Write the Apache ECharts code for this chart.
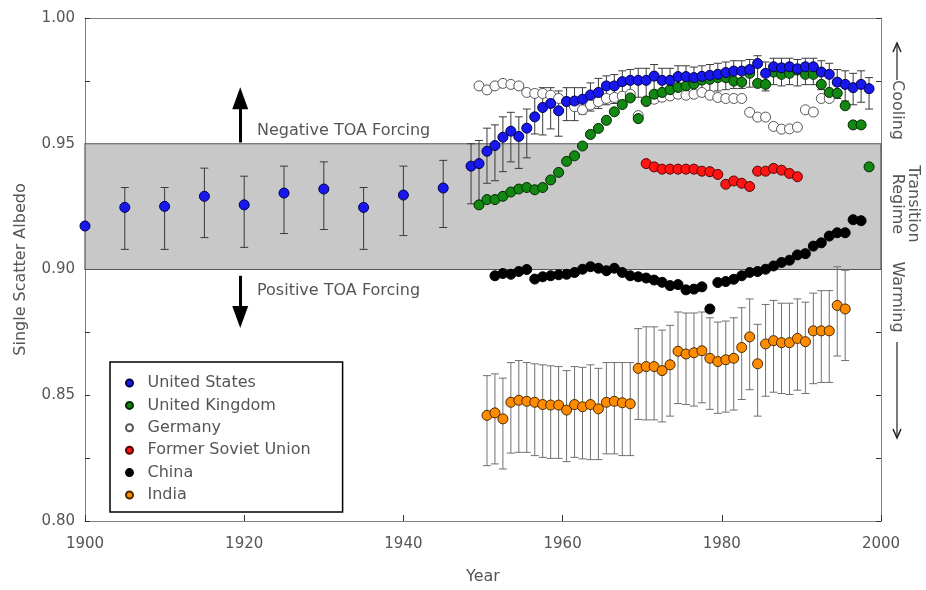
<!DOCTYPE html>
<html>
<head>
<meta charset="utf-8">
<script src="https://cdn.jsdelivr.net/npm/echarts@6/dist/echarts.min.js"></script>
<style>
  html, body { margin: 0; padding: 0; background: #fff; }
  #chart { width: 926px; height: 590px; }
</style>
</head>
<body>
<div id="chart"></div>
<script>
// Single scatter albedo of regional aerosol, 1900–2000

const xTicks = [1900, 1920, 1940, 1960, 1980, 2000];
const yTicks = [0.80, 0.85, 0.90, 0.95, 1.00];
const transitionLow = 0.90;
const transitionHigh = 0.95;

// United States, 5-year values 1900–1945 with error range
const usEarlyYears = [1900, 1905, 1910, 1915, 1920, 1925, 1930, 1935, 1940, 1945];
const usEarly   = [0.9173, 0.9247, 0.9251, 0.9291, 0.9257, 0.9304, 0.9320, 0.9247, 0.9296, 0.9324];
const usEarlyHi = [null,   0.9326, 0.9326, 0.9403, 0.9371, 0.9411, 0.9428, 0.9326, 0.9411, 0.9434];
const usEarlyLo = [null,   0.9080, 0.9080, 0.9127, 0.9088, 0.9143, 0.9159, 0.9080, 0.9135, 0.9167];

// Annual means: first year, then one value per year (plotted at mid-year)
const usStart = 1948;
const usAnnual = [
  0.9411, 0.9421, 0.9470, 0.9493, 0.9526, 0.9550, 0.9529, 0.9562, 0.9607, 0.9644,
  0.9660, 0.9631, 0.9668, 0.9670, 0.9677, 0.9694, 0.9704, 0.9730, 0.9730, 0.9747,
  0.9752, 0.9752, 0.9752, 0.9769, 0.9752, 0.9752, 0.9767, 0.9767, 0.9763, 0.9768,
  0.9772, 0.9776, 0.9783, 0.9789, 0.9789, 0.9795, 0.9819, 0.9780, 0.9806, 0.9802,
  0.9806, 0.9798, 0.9806, 0.9806, 0.9785, 0.9776, 0.9745, 0.9736, 0.9723, 0.9736,
  0.9719
];
const usAnnualHi = [
  0.9500, 0.9513, 0.9562, 0.9575, 0.9607, 0.9625, 0.9607, 0.9638, 0.9710, 0.9723,
  0.9723, 0.9710, 0.9723, 0.9723, 0.9723, 0.9742, 0.9760, 0.9770, 0.9775, 0.9790,
  0.9795, 0.9800, 0.9800, 0.9815, 0.9800, 0.9800, 0.9810, 0.9810, 0.9805, 0.9810,
  0.9815, 0.9820, 0.9825, 0.9830, 0.9830, 0.9835, 0.9850, 0.9825, 0.9840, 0.9840,
  0.9840, 0.9835, 0.9840, 0.9840, 0.9830, 0.9820, 0.9795, 0.9790, 0.9780, 0.9790,
  0.9763
];
const usAnnualLo = [
  0.9261, 0.9261, 0.9343, 0.9353, 0.9389, 0.9428, 0.9402, 0.9444, 0.9539, 0.9535,
  0.9559, 0.9530, 0.9592, 0.9592, 0.9618, 0.9630, 0.9640, 0.9655, 0.9660, 0.9675,
  0.9680, 0.9685, 0.9680, 0.9700, 0.9685, 0.9690, 0.9700, 0.9700, 0.9695, 0.9700,
  0.9705, 0.9710, 0.9715, 0.9720, 0.9720, 0.9725, 0.9750, 0.9710, 0.9735, 0.9730,
  0.9735, 0.9730, 0.9735, 0.9735, 0.9715, 0.9705, 0.9680, 0.9670, 0.9655, 0.9665,
  0.9638
];

const ukStart = 1949;
const ukAnnual = [
  0.9257, 0.9278, 0.9278, 0.9291, 0.9308, 0.9320, 0.9326, 0.9317, 0.9326, 0.9356,
  0.9386, 0.9430, 0.9452, 0.9491, 0.9537, 0.9561, 0.9593, 0.9627, 0.9656, 0.9682,
  0.9600, 0.9670, 0.9697, 0.9704, 0.9715, 0.9724, 0.9730, 0.9738, 0.9753, 0.9756,
  0.9763, 0.9763, 0.9749, 0.9745, 0.9780, 0.9740, 0.9736, 0.9785, 0.9776, 0.9780,
  0.9793, 0.9776, 0.9776, 0.9736, 0.9704, 0.9701, 0.9651, 0.9575, 0.9575, 0.9408
];

const deStart = 1949;
const deAnnual = [
  0.9730, 0.9714, 0.9730, 0.9740, 0.9736, 0.9730, 0.9704, 0.9700, 0.9700, 0.9693,
  0.9680, 0.9667, 0.9647, 0.9635, 0.9654, 0.9667, 0.9680, 0.9684, 0.9689, 0.9697,
  0.9612, 0.9667, 0.9677, 0.9685, 0.9690, 0.9697, 0.9693, 0.9697, 0.9704, 0.9693,
  0.9684, 0.9680, 0.9680, 0.9680, 0.9625, 0.9606, 0.9606, 0.9569, 0.9558, 0.9559,
  0.9566, 0.9635, 0.9626, 0.9680, 0.9680
];

const fsuStart = 1970;
const fsuAnnual = [
  0.9421, 0.9408, 0.9399, 0.9399, 0.9399, 0.9399, 0.9399, 0.9391, 0.9389, 0.9378,
  0.9339, 0.9352, 0.9343, 0.9330, 0.9391, 0.9391, 0.9402, 0.9395, 0.9382, 0.9369
];

const chinaStart = 1951;
const chinaAnnual = [
  0.8975, 0.8984, 0.8981, 0.8992, 0.9000, 0.8962, 0.8971, 0.8975, 0.8979, 0.8981,
  0.8988, 0.9001, 0.9011, 0.9005, 0.8995, 0.9005, 0.8988, 0.8975, 0.8971, 0.8966,
  0.8958, 0.8949, 0.8936, 0.8940, 0.8919, 0.8922, 0.8931, 0.8843, 0.8948, 0.8952,
  0.8961, 0.8975, 0.8988, 0.8992, 0.9001, 0.9014, 0.9028, 0.9037, 0.9058, 0.9063,
  0.9093, 0.9106, 0.9133, 0.9146, 0.9146, 0.9198, 0.9194
];

const indiaStart = 1950;
const indiaAnnual = [
  0.8420, 0.8430, 0.8406, 0.8472, 0.8480, 0.8476, 0.8472, 0.8463, 0.8461, 0.8461,
  0.8441, 0.8463, 0.8454, 0.8463, 0.8446, 0.8472, 0.8476, 0.8470, 0.8466, 0.8607,
  0.8614, 0.8614, 0.8598, 0.8621, 0.8675, 0.8664, 0.8669, 0.8677, 0.8647, 0.8634,
  0.8641, 0.8647, 0.8690, 0.8732, 0.8625, 0.8704, 0.8717, 0.8709, 0.8709, 0.8726,
  0.8713, 0.8756, 0.8756, 0.8756, 0.8857, 0.8843
];
const indiaHi = [
  0.8578, 0.8585, 0.8568, 0.8630, 0.8638, 0.8630, 0.8625, 0.8621, 0.8617, 0.8614,
  0.8598, 0.8614, 0.8611, 0.8621, 0.8607, 0.8630, 0.8630, 0.8630, 0.8630, 0.8765,
  0.8772, 0.8772, 0.8759, 0.8778, 0.8831, 0.8827, 0.8827, 0.8831, 0.8808, 0.8791,
  0.8795, 0.8808, 0.8848, 0.8883, 0.8782, 0.8861, 0.8877, 0.8866, 0.8866, 0.8883,
  0.8870, 0.8906, 0.8916, 0.8916, 0.9011, 0.8997
];
const indiaLo = [
  0.8220, 0.8227, 0.8207, 0.8270, 0.8273, 0.8273, 0.8260, 0.8253, 0.8249, 0.8249,
  0.8236, 0.8253, 0.8247, 0.8244, 0.8244, 0.8267, 0.8267, 0.8260, 0.8260, 0.8404,
  0.8402, 0.8402, 0.8394, 0.8417, 0.8467, 0.8463, 0.8457, 0.8470, 0.8444, 0.8428,
  0.8433, 0.8441, 0.8483, 0.8522, 0.8417, 0.8496, 0.8512, 0.8507, 0.8503, 0.8520,
  0.8507, 0.8546, 0.8551, 0.8551, 0.8656, 0.8638
];

// Annual means are centred in their year
const MID_YEAR = 0.5;
const FONT = 'DejaVu Sans';
const TEXT = '#555';

function annualPoints(start, values) {
  return values.map((v, i) => [start + i + MID_YEAR, v]);
}
function annualBars(start, lo, hi) {
  return lo.map((l, i) => [start + i + MID_YEAR, l, hi[i]]);
}

const usPoints = usEarlyYears.map((y, i) => [y, usEarly[i]])
  .concat(annualPoints(usStart, usAnnual));
const usBars = usEarlyYears.map((y, i) => [y, usEarlyLo[i], usEarlyHi[i]])
  .filter(d => d[1] !== null)
  .concat(annualBars(usStart, usAnnualLo, usAnnualHi));
const indiaBars = annualBars(indiaStart, indiaLo, indiaHi);

// Vertical error bar with short caps
function renderBar(params, api) {
  const x = api.value(0);
  const top = api.coord([x, api.value(2)]);
  const bot = api.coord([x, api.value(1)]);
  const half = 4;
  const style = { stroke: api.visual('color'), lineWidth: 1 };
  return {
    type: 'group',
    children: [
      { type: 'line', shape: { x1: top[0], y1: top[1], x2: bot[0], y2: bot[1] }, style },
      { type: 'line', shape: { x1: top[0] - half, y1: top[1], x2: top[0] + half, y2: top[1] }, style },
      { type: 'line', shape: { x1: bot[0] - half, y1: bot[1], x2: bot[0] + half, y2: bot[1] }, style }
    ]
  };
}

function scatter(name, data, fill, border, z) {
  return {
    name, type: 'scatter', data, z,
    symbol: 'circle', symbolSize: 10,
    itemStyle: { color: fill, borderColor: border, borderWidth: 1, opacity: 1 },
    emphasis: { disabled: true }, silent: true
  };
}

const chart = echarts.init(document.getElementById('chart'), null, { renderer: 'canvas' });

const axisLineStyle = { color: '#808080', width: 1 };
const tickStyle = { color: '#333', width: 1 };

chart.setOption({
  animation: false,
  backgroundColor: '#fff',
  grid: { left: 85, right: 45, top: 18, bottom: 65, containLabel: false },
  textStyle: { fontFamily: FONT },
  xAxis: [
    {
      type: 'value', min: xTicks[0], max: xTicks[xTicks.length - 1], interval: 20,
      position: 'bottom',
      axisLine: { lineStyle: axisLineStyle },
      axisTick: { inside: true, length: 6, lineStyle: tickStyle },
      axisLabel: { margin: 16, color: TEXT, fontSize: 15, fontFamily: FONT, formatter: v => String(v) },
      splitLine: { show: false },
      name: 'Year', nameLocation: 'middle', nameGap: 48,
      nameTextStyle: { color: TEXT, fontSize: 16, fontFamily: FONT }
    },
    {
      type: 'value', min: xTicks[0], max: xTicks[xTicks.length - 1], position: 'top',
      axisLine: { show: true, lineStyle: axisLineStyle },
      axisTick: { show: false }, axisLabel: { show: false }, splitLine: { show: false }
    }
  ],
  yAxis: [
    {
      type: 'value', min: yTicks[0], max: yTicks[yTicks.length - 1], interval: 0.05,
      position: 'left',
      axisLine: { show: true, lineStyle: axisLineStyle },
      axisTick: { show: true, inside: true, length: 5, lineStyle: tickStyle },
      minorTick: { show: true, splitNumber: 2, length: 5, lineStyle: tickStyle },
      axisLabel: { margin: 10, color: TEXT, fontSize: 15, fontFamily: FONT, formatter: v => v.toFixed(2) },
      splitLine: { show: false },
      name: 'Single Scatter Albedo', nameLocation: 'middle', nameGap: 56,
      nameTextStyle: { color: TEXT, fontSize: 16, fontFamily: FONT }
    },
    {
      type: 'value', min: yTicks[0], max: yTicks[yTicks.length - 1], interval: 0.05,
      position: 'right',
      axisLine: { show: true, lineStyle: axisLineStyle },
      axisTick: { show: true, inside: true, length: 5, lineStyle: tickStyle },
      minorTick: { show: true, splitNumber: 2, length: 5, lineStyle: tickStyle },
      axisLabel: { show: false }, splitLine: { show: false }
    }
  ],
  legend: {
    orient: 'vertical', left: 110, top: 362,
    padding: [13, 32, 9, 15],
    itemWidth: 26, itemHeight: 7, itemGap: 6.4,
    selectedMode: false,
    borderColor: '#000', borderWidth: 1.5, backgroundColor: '#fff',
    textStyle: { fontFamily: FONT, fontSize: 16, color: TEXT },
    data: ['United States', 'United Kingdom', 'Germany', 'Former Soviet Union', 'China', 'India']
  },
  series: [
    {
      // transition regime band and TOA forcing arrows
      name: 'regime', type: 'scatter', data: [], z: 1, silent: true,
      markArea: {
        silent: true,
        itemStyle: { color: '#c8c8c8', borderColor: '#555', borderWidth: 1.2 },
        data: [[{ xAxis: xTicks[0], yAxis: transitionLow }, { xAxis: xTicks[xTicks.length - 1], yAxis: transitionHigh }]]
      },
      markLine: {
        silent: true, symbol: ['none', 'triangle'], symbolSize: [16, 22],
        label: { show: false },
        lineStyle: { color: '#000', width: 3, type: 'solid' },
        data: [
          [{ coord: [1919.5, 0.9505] }, { coord: [1919.5, 0.9681] }],
          [{ coord: [1919.5, 0.8975] }, { coord: [1919.5, 0.8811] }]
        ]
      }
    },
    {
      name: 'US error', type: 'custom', renderItem: renderBar, data: usBars, z: 2,
      encode: { x: 0, y: [1, 2] }, itemStyle: { color: '#3a3a3a' }, silent: true
    },
    {
      name: 'India error', type: 'custom', renderItem: renderBar, data: indiaBars, z: 2,
      encode: { x: 0, y: [1, 2] }, itemStyle: { color: '#707070' }, silent: true
    },
    scatter('Germany', annualPoints(deStart, deAnnual), '#ffffff', '#555555', 3),
    scatter('Former Soviet Union', annualPoints(fsuStart, fsuAnnual), '#ff1414', '#5a0000', 4),
    scatter('China', annualPoints(chinaStart, chinaAnnual), '#000000', '#000000', 4),
    scatter('India', annualPoints(indiaStart, indiaAnnual), '#ff8c00', '#4a2800', 4),
    scatter('United Kingdom', annualPoints(ukStart, ukAnnual), '#128812', '#002800', 5),
    scatter('United States', usPoints, '#1818ee', '#00004a', 6)
  ],
  graphic: [
    { type: 'text', x: 257, y: 131, silent: true,
      style: { text: 'Negative TOA Forcing', fill: TEXT, font: '16px "DejaVu Sans"', align: 'left', verticalAlign: 'middle' } },
    { type: 'text', x: 257, y: 291, silent: true,
      style: { text: 'Positive TOA Forcing', fill: TEXT, font: '16px "DejaVu Sans"', align: 'left', verticalAlign: 'middle' } },

    // right-hand margin: cooling / transition / warming
    { type: 'line', silent: true, shape: { x1: 897, y1: 80, x2: 897, y2: 43 }, style: { stroke: '#222', lineWidth: 1.2 } },
    { type: 'polyline', silent: true, shape: { points: [[893, 52], [897, 43], [901, 52]] }, style: { stroke: '#222', lineWidth: 1.5, fill: null } },
    { type: 'text', x: 897, y: 110, rotation: -Math.PI / 2, silent: true,
      style: { text: 'Cooling', fill: TEXT, font: '16px "DejaVu Sans"', align: 'center', verticalAlign: 'middle' } },
    { type: 'text', x: 905, y: 204, rotation: -Math.PI / 2, silent: true,
      style: { text: 'Transition\nRegime', fill: TEXT, font: '16px "DejaVu Sans"', lineHeight: 16, align: 'center', verticalAlign: 'middle' } },
    { type: 'text', x: 897, y: 297, rotation: -Math.PI / 2, silent: true,
      style: { text: 'Warming', fill: TEXT, font: '16px "DejaVu Sans"', align: 'center', verticalAlign: 'middle' } },
    { type: 'line', silent: true, shape: { x1: 897, y1: 342, x2: 897, y2: 438 }, style: { stroke: '#222', lineWidth: 1.2 } },
    { type: 'polyline', silent: true, shape: { points: [[893, 429], [897, 438], [901, 429]] }, style: { stroke: '#222', lineWidth: 1.5, fill: null } }
  ]
});
</script>
</body>
</html>
